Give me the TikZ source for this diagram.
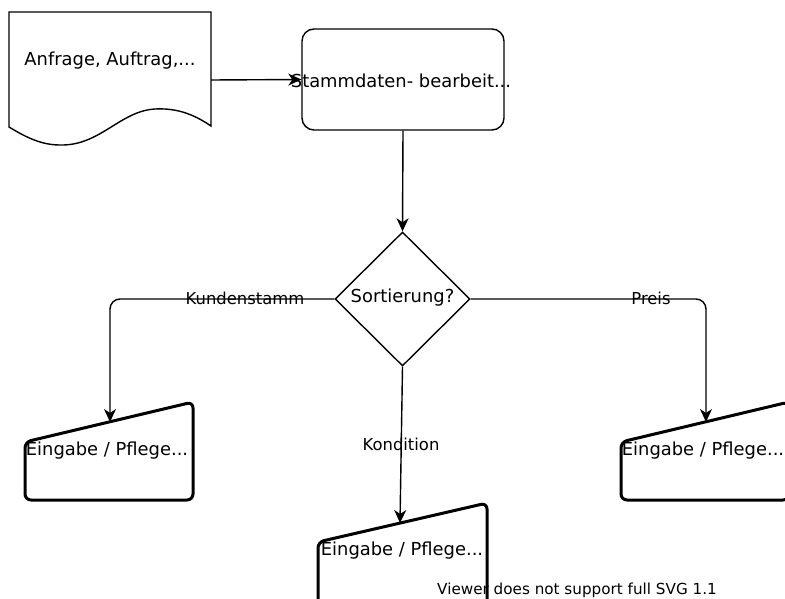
\documentclass[tikz,border=0pt]{standalone}
\usepackage{fontspec}
\setmainfont{DejaVu Sans}
\usetikzlibrary{arrows.meta,shapes.geometric}
\begin{document}
\begin{tikzpicture}[x=1pt,y=-1pt,
  conn/.style={line width=1.4pt,-{Stealth[length=13pt,width=12pt,inset=4pt]}},
  thin/.style={line width=1.4pt},
  thickbox/.style={line width=3pt,rounded corners=6pt},
  txt/.style={font=\fontsize{17.9}{20}\selectfont,inner sep=0pt},
  lbl/.style={font=\fontsize{16.4}{19}\selectfont,inner sep=0pt},
  warnlbl/.style={font=\fontsize{15.2}{18}\selectfont,inner sep=0pt}]
\useasboundingbox (0,0) rectangle (785,599);
\clip (0,0) rectangle (785,599);
% document shape
\draw[thin] (9,127) -- (9,12) -- (211,12) -- (211,126)
  .. controls (192,113) and (175,108) .. (155,109)
  .. controls (120,111) and (100,146) .. (60,145)
  .. controls (40,145) and (24,136) .. cycle;
\node[txt] (doc) at (110,61) {Anfrage, Auftrag,...};
\coordinate (docout) at (211,80);
% rounded process
\node[draw,line width=1.4pt,rounded corners=12pt,minimum width=202pt,minimum height=101pt,inner sep=0pt] (proc) at (403,79.5) {};
\node[txt] (proctxt) at (401,81) {Stammdaten- bearbeit...};
% diamond
\node[draw,diamond,line width=1.4pt,minimum width=135pt,minimum height=134pt,inner sep=0pt] (dec) at (402.5,299) {};
\node[txt] (dectxt) at (402.5,298) {Sortierung?};
% manual input shapes
\draw[thickbox] (25,442) -- (193,402) -- (193,500) -- (25,500) -- cycle;
\node[txt] (in1) at (107,451) {Eingabe / Pflege...};
\draw[thickbox] (621,442) -- (789,402) -- (789,500) -- (621,500) -- cycle;
\node[txt] (in3) at (703,451) {Eingabe / Pflege...};
\draw[thickbox] (318,542) -- (487,503) -- (487,610) -- (318,610) -- cycle;
\node[txt] (in2) at (402,551) {Eingabe / Pflege...};
\coordinate (t1) at (110,422);
\coordinate (t3) at (706,422);
\coordinate (t2) at (400,523);
% connectors
\draw[conn] (docout) -- (proc.west);
\draw[conn] (proc.south) -- (dec.north);
\draw[conn,rounded corners=10pt] (dec.west) -| (t1);
\draw[conn,rounded corners=10pt] (dec.east) -| (t3);
\draw[conn] (dec.south) -- (t2);
\node[lbl] (l1) at (245,298) {Kundenstamm};
\node[lbl] (l3) at (651,298) {Preis};
\node[lbl] (l2) at (401,444) {Kondition};
\node[warnlbl] (warn) at (577,590) {Viewer does not support full SVG 1.1};
\end{tikzpicture}
\end{document}
